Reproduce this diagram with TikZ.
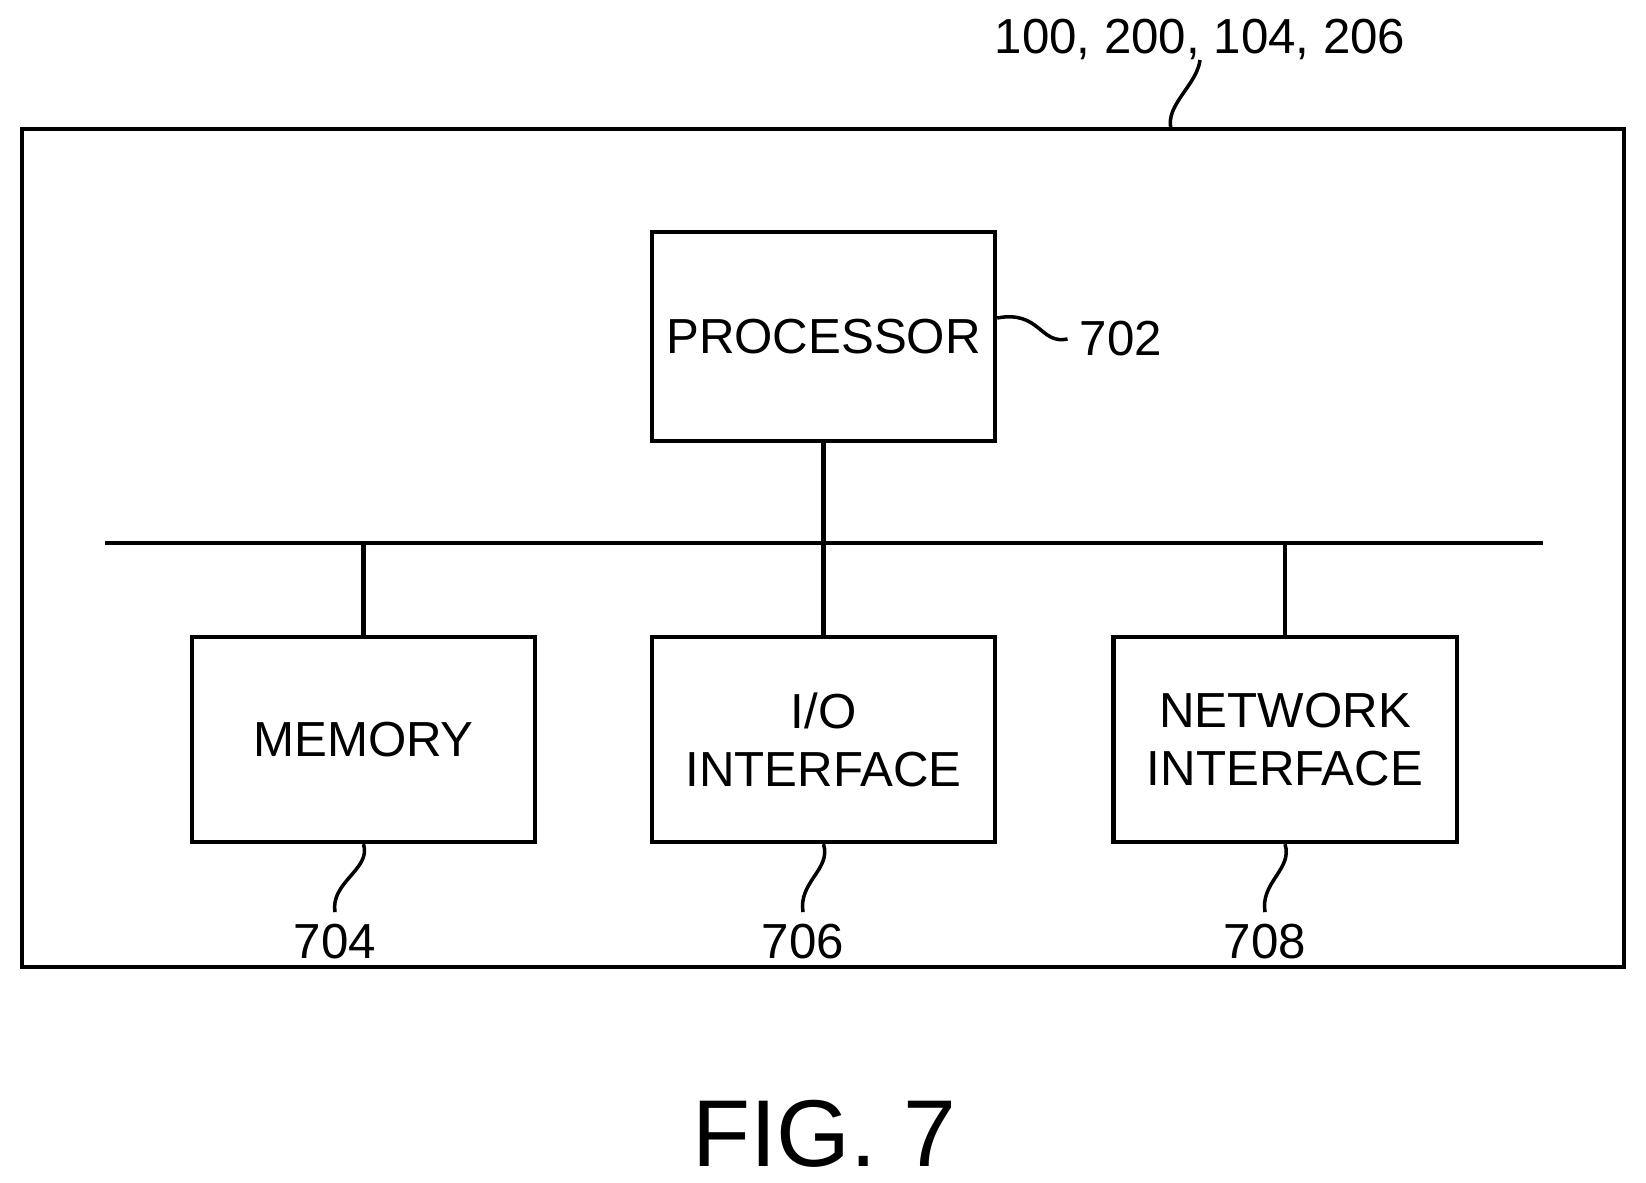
\documentclass[tikz,border=0pt]{standalone}
\usepackage{fontspec}
\setmainfont{Liberation Sans}
\usetikzlibrary{positioning}

\begin{document}
\begin{tikzpicture}[x=0.01cm, y=-0.01cm, font=\fontsize{14}{16.5}\selectfont]
  \tikzset{
    unit_box/.style={draw, line width=1.2pt, minimum width=3.43cm, minimum height=2.05cm, align=center, inner sep=0pt},
    bus_line/.style={line width=1.2pt},
    leader/.style={line width=1pt}
  }
  \useasboundingbox (0,0) rectangle (1646,1183);

  % outer device box
  \draw[line width=1.4pt] (22,129) rectangle (1624,967);
  \coordinate (outer-top) at (1171,129);
  \node (ref-outer) at (1200,39) {100, 200, 104, 206};
  \draw[leader] (outer-top) .. controls (1165,105) and (1197,85) .. (1200,60);

  % processor and bus
  \node[unit_box, minimum height=2.09cm] (proc) at (823.5,336.5) {PROCESSOR};
  \coordinate (bus-l) at (105,543);
  \coordinate (bus-r) at (1543,543);
  \draw[bus_line] (bus-l) -- (bus-r);
  \draw[bus_line] (proc.south) -- (proc.south |- bus-l);

  % units on the bus
  \node[unit_box] (mem) at (363.5,739.5) {MEMORY};
  \node[unit_box] (io) at (823.5,739.5) {I/O\\INTERFACE};
  \node[unit_box] (net) at (1285,739.5) {NETWORK\\INTERFACE};
  \foreach \u in {mem, io, net} {
    \draw[bus_line] (\u.north) -- (\u.north |- bus-l);
  }

  % reference numerals
  \node (ref-proc) at (1121,339) {702};
  \draw[leader] (proc.east |- 0,318) .. controls (1040,310) and (1040,345) .. (ref-proc.west);
  \node (ref-mem) at (335,942) {704};
  \node (ref-io) at (803,942) {706};
  \node (ref-net) at (1265,942) {708};
  \foreach \u/\r in {mem/ref-mem, io/ref-io, net/ref-net} {
    \draw[leader] (\u.south) .. controls +(8,25) and +(-5,-30) .. (\r.north);
  }

  \node[font=\fontsize{27}{32}\selectfont] (fig) at (824,1134) {FIG. 7};
\end{tikzpicture}
\end{document}
